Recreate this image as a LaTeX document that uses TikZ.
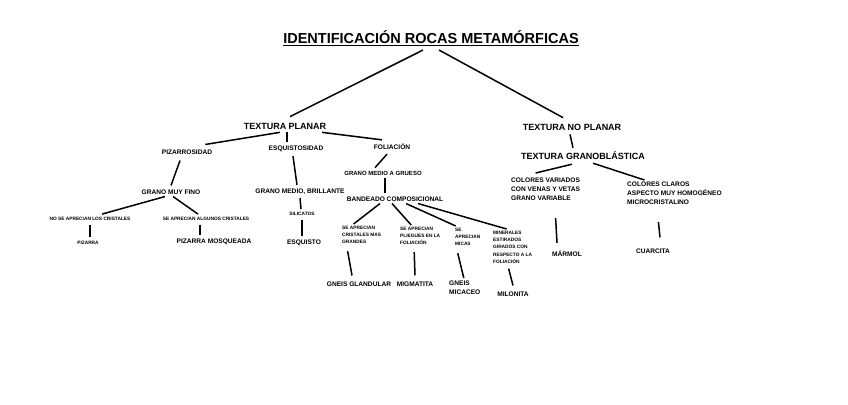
\documentclass[tikz,border=0pt]{standalone}
\usepackage{fontspec}
\setmainfont{Liberation Sans}

\begin{document}
\begin{tikzpicture}[x=1pt, y=-1pt,
    big/.style={font=\bfseries\fontsize{9}{11}\selectfont, inner sep=1pt},
    mid/.style={font=\bfseries\fontsize{6.6}{9}\selectfont, inner sep=1pt, align=left},
    tiny/.style={font=\bfseries\fontsize{4.8}{7.2}\selectfont, inner sep=1pt, align=left},
    link/.style={line width=1.5pt}]
    \useasboundingbox (0,0) rectangle (848,404);

    % Title
    \node[font=\bfseries\fontsize{14.5}{16}\selectfont] (title) at (431,38) {\underline{IDENTIFICACIÓN ROCAS METAMÓRFICAS}};

    % Textura planar
    \node[big] (tp) at (285,126) {TEXTURA PLANAR};
    \node[mid] (piz) at (187,152) {PIZARROSIDAD};
    \node[mid] (esq) at (296,149) {ESQUISTOSIDAD};
    \node[mid] (fol) at (392,147) {FOLIACIÓN};

    % Pizarrosidad
    \node[mid] (gmf) at (171,192) {GRANO MUY FINO};
    \node[tiny] (nsc) at (90,219) {NO SE APRECIAN LOS CRISTALES};
    \node[tiny] (sac) at (206,219) {SE APRECIAN ALGUNOS CRISTALES};
    \node[tiny] (pizarra) at (88,243) {PIZARRA};
    \node[mid] (pizm) at (214,242) {PIZARRA MOSQUEADA};

    % Esquistosidad
    \node[mid] (gmb) at (300,192) {GRANO MEDIO, BRILLANTE};
    \node[tiny] (sil) at (302,214) {SILICATOS};
    \node[mid] (esquisto) at (304,243) {ESQUISTO};

    % Foliacion
    \node[tiny, font=\bfseries\fontsize{6}{7}\selectfont] (gmg) at (383,173) {GRANO MEDIO A GRUESO};
    \node[mid] (band) at (395,199) {BANDEADO COMPOSICIONAL};
    \node[tiny, anchor=north west] (b1) at (341,225) {SE APRECIAN\\CRISTALES MAS\\GRANDES};
    \node[tiny, anchor=north west] (b2) at (399,226) {SE APRECIAN\\PLIEGUES EN LA\\FOLIACIÓN};
    \node[tiny, anchor=north west] (b3) at (454,227) {SE\\APRECIAN\\MICAS};
    \node[tiny, anchor=north west] (b4) at (492,230) {MINERALES\\ESTIRADOS\\GIRADOS CON\\RESPECTO A LA\\FOLIACIÓN};
    \node[mid] (gg) at (359,284) {GNEIS GLANDULAR};
    \node[mid] (mig) at (415,284) {MIGMATITA};
    \node[mid, anchor=north west] (gmi) at (448,280) {GNEIS\\MICACEO};
    \node[mid] (mil) at (513,294) {MILONITA};

    % Textura no planar
    \node[big] (tnp) at (572,127) {TEXTURA NO PLANAR};
    \node[big] (tgb) at (583,156) {TEXTURA GRANOBLÁSTICA};
    \node[mid, anchor=north west] (cv) at (510,177) {COLORES VARIADOS\\CON VENAS Y VETAS\\GRANO VARIABLE};
    \node[mid, anchor=north west] (cc) at (626,181) {COLORES CLAROS\\ASPECTO MUY HOMOGÉNEO\\MICROCRISTALINO};
    \node[mid] (mar) at (567,254) {MÁRMOL};
    \node[mid] (cua) at (653,251) {CUARCITA};

    % Connectors
    \draw[link] ([xshift=-8pt,yshift=-1pt]title.south) -- ([xshift=5pt,yshift=5pt]tp.north);
    \draw[link] ([xshift=8pt,yshift=-1pt]title.south) -- ([xshift=-9pt,yshift=5pt]tnp.north);

    \draw[link] ([xshift=-5pt,yshift=-2pt]tp.south) -- ([xshift=-8pt,yshift=4pt]piz.north east);
    \draw[link] ([xshift=2pt,yshift=-2pt]tp.south) -- ([xshift=-9pt,yshift=3pt]esq.north);
    \draw[link] ([xshift=37pt,yshift=-2pt]tp.south) -- ([xshift=-10pt,yshift=3pt]fol.north);

    \draw[link] ([xshift=-7pt,yshift=-5pt]piz.south) -- ([yshift=3pt]gmf.north);
    \draw[link] ([xshift=-6pt,yshift=-1pt]gmf.south) -- ([xshift=12pt,yshift=2pt]nsc.north);
    \draw[link] ([xshift=2pt,yshift=-1pt]gmf.south) -- ([xshift=-8pt,yshift=2pt]sac.north);
    \draw[link] ([xshift=0pt,yshift=-3pt]nsc.south) -- ([xshift=2pt,yshift=3pt]pizarra.north);
    \draw[link] ([xshift=-6pt,yshift=-3pt]sac.south) -- ([xshift=-14pt,yshift=3pt]pizm.north);

    \draw[link] ([xshift=-3pt,yshift=-3pt]esq.south) -- ([xshift=-3pt,yshift=3pt]gmb.north);
    \draw[link] ([yshift=-2pt]gmb.south) -- ([xshift=-1pt,yshift=2pt]sil.north);
    \draw[link] ([yshift=-3pt]sil.south) -- ([xshift=-2pt,yshift=3pt]esquisto.north);

    \draw[link] ([xshift=-5pt,yshift=-3pt]fol.south) -- ([xshift=-8pt,yshift=2pt]gmg.north);
    \draw[link] ([xshift=2pt,yshift=-2pt]gmg.south) -- ([xshift=-10pt,yshift=2pt]band.north);
    \draw[link] ([xshift=-15pt,yshift=-1pt]band.south) -- ([xshift=-8pt,yshift=1pt]b1.north);
    \draw[link] ([xshift=-3pt,yshift=-1pt]band.south) -- ([xshift=-9pt,yshift=1pt]b2.north);
    \draw[link] ([xshift=11pt,yshift=-1pt]band.south) -- ([xshift=-12pt,yshift=1pt]b3.north);
    \draw[link] ([xshift=23pt,yshift=-1pt]band.south) -- ([xshift=-6pt,yshift=1pt]b4.north);
    \draw[link] ([xshift=-14pt,yshift=-6pt]b1.south) -- ([xshift=-7pt,yshift=5pt]gg.north);
    \draw[link] ([xshift=-6pt,yshift=-6pt]b2.south) -- ([yshift=5pt]mig.north);
    \draw[link] ([xshift=-10pt,yshift=-6pt]b3.south) -- ([xshift=-1pt,yshift=2pt]gmi.north);
    \draw[link] ([xshift=-4pt,yshift=-4pt]b4.south) -- ([yshift=5pt]mil.north);

    \draw[link] ([xshift=-2pt,yshift=-3pt]tnp.south) -- ([xshift=-10pt,yshift=3pt]tgb.north);
    \draw[link] ([xshift=-11pt,yshift=-3pt]tgb.south) -- ([xshift=-10pt,yshift=4pt]cv.north);
    \draw[link] ([xshift=10pt,yshift=-2pt]tgb.south) -- ([xshift=-30pt,yshift=1pt]cc.north);
    \draw[link] ([xshift=10pt,yshift=-16pt]cv.south) -- ([xshift=-10pt,yshift=7pt]mar.north);
    \draw[link] ([xshift=-16pt,yshift=-16pt]cc.south) -- ([xshift=7pt,yshift=10pt]cua.north);
\end{tikzpicture}
\end{document}
